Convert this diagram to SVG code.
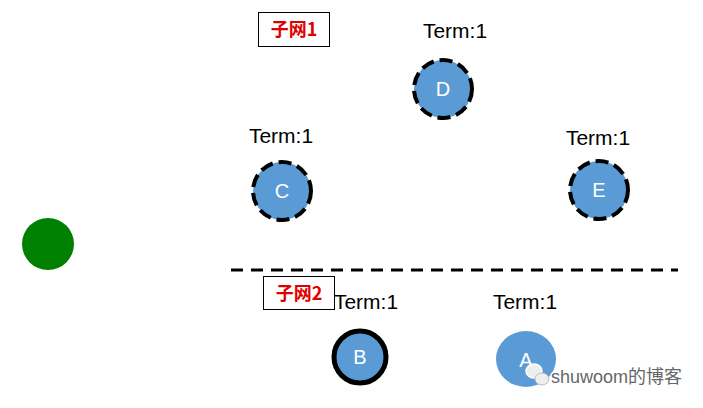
<svg xmlns="http://www.w3.org/2000/svg" width="703" height="408" viewBox="0 0 703 408">
<style>
.term{font-family:"Liberation Sans","Noto Sans",sans-serif;font-size:21px;fill:#000;text-anchor:middle}
.lbl{font-family:"Liberation Sans","Noto Sans",sans-serif;font-size:20px;fill:#fff;text-anchor:middle}
.node{fill:#5B9BD5}
.dash{stroke:#000;stroke-width:4;stroke-dasharray:13 6}
.box{fill:#fff;stroke:#000;stroke-width:1}
.sub{font-family:"Noto Sans CJK SC","Noto Sans",sans-serif;font-size:18px;font-weight:bold;fill:#E00000;text-anchor:middle}
.wm{font-family:"Liberation Sans","Noto Sans CJK SC",sans-serif;font-size:18px;fill:#666;stroke:#fff;stroke-width:3;paint-order:stroke}
</style>
<rect width="703" height="408" fill="#fff"/>
<g id="green"><circle cx="48" cy="244" r="26" fill="#008000"/></g>
<g id="subnet1"><rect class="box" x="258.5" y="12.5" width="71" height="34"/><text class="sub" x="294" y="36">子网1</text></g>
<g id="subnet2"><rect class="box" x="263.5" y="276.5" width="71" height="33"/><text class="sub" x="299" y="299.5">子网2</text></g>
<g id="divider"><line x1="231" y1="270" x2="678" y2="270" stroke="#000" stroke-width="3" stroke-dasharray="12 8"/></g>
<g id="D"><text class="term" x="455" y="38">Term:1</text><circle class="node dash" cx="443" cy="89" r="29"/><text class="lbl" x="443" y="96">D</text></g>
<g id="C"><text class="term" x="281" y="143">Term:1</text><circle class="node dash" cx="282" cy="191" r="29"/><text class="lbl" x="282" y="198">C</text></g>
<g id="E"><text class="term" x="598" y="145">Term:1</text><circle class="node dash" cx="599" cy="190" r="29"/><text class="lbl" x="599" y="197">E</text></g>
<g id="B"><text class="term" x="366" y="309">Term:1</text><circle class="node" cx="360" cy="357" r="26" stroke="#000" stroke-width="5"/><text class="lbl" x="360" y="364">B</text></g>
<g id="A"><text class="term" x="525" y="309">Term:1</text><ellipse class="node" cx="526" cy="359" rx="30" ry="28"/><text class="lbl" x="526" y="367">A</text></g>
<g id="watermark">
<ellipse cx="534" cy="371" rx="8" ry="7" fill="#eee" stroke="#fff" stroke-width="1.5"/>
<ellipse cx="542" cy="379" rx="7" ry="6" fill="#eee" stroke="#bbb" stroke-width="1"/>
<text class="wm" x="551" y="383">shuwoom的博客</text>
</g>
</svg>
